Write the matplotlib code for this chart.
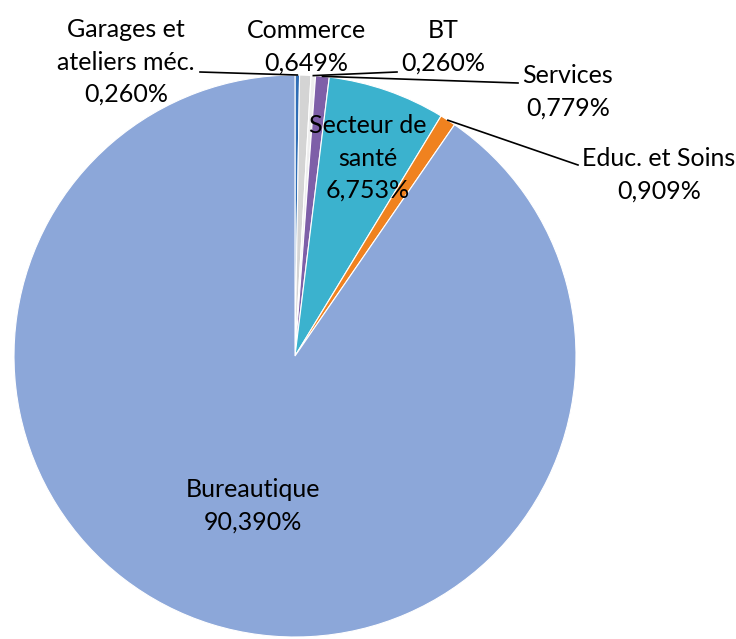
import matplotlib.pyplot as plt
import numpy as np

# data ###############################################
labels = ['Garages et\nateliers méc.', 'Commerce', 'BT', 'Services',
          'Secteur de\nsanté', 'Educ. et Soins', 'Bureautique']
values = [0.260, 0.649, 0.260, 0.779, 6.753, 0.909, 90.390]
colors = ['#2F6DB5', '#D4D4D4', '#EEEEEE', '#7E5FA8',
          '#3BB2CE', '#F0821F', '#8CA7D9']

W, H = 736, 639
cx, cy, R = 295, H - 356, 281

fig = plt.figure(figsize=(W / 100, H / 100), dpi=100)
ax = fig.add_axes([0, 0, 1, 1])

wedges, _ = ax.pie(values, colors=colors, startangle=90, counterclock=False,
                   center=(cx, cy), radius=R,
                   wedgeprops={'edgecolor': 'white', 'linewidth': 0.8})
ax.set_xlim(0, W)
ax.set_ylim(0, H)
ax.set_aspect('equal')
ax.axis('off')

font = {'family': 'Lato', 'fontsize': 18}

def pct(v):
    return f'{v:.3f}%'.replace('.', ',')

# label positions in pixels from the top-left (x, y of text centre)
label_pos = [(126, 62), (306, 47), (443, 47), (568, 92),
             (368, 158), (659, 175), (253, 506)]
# leader line start points (None = label sits inside)
line_start = [(200, 72), None, (397, 72), (518, 83),
              None, (578, 165), None]

for w, lab, v, (lx, ly), ls in zip(wedges, labels, values, label_pos, line_start):
    ax.text(lx, H - ly, lab + '\n' + pct(v), ha='center', va='center',
            linespacing=1.5, **font)
    if ls is not None:
        mid = np.deg2rad((w.theta1 + w.theta2) / 2)
        px = cx + R * np.cos(mid)
        py = cy + R * np.sin(mid)
        ax.plot([ls[0], px], [H - ls[1], py], color='black', lw=1.2)

fig.savefig('out.png', dpi=100)
